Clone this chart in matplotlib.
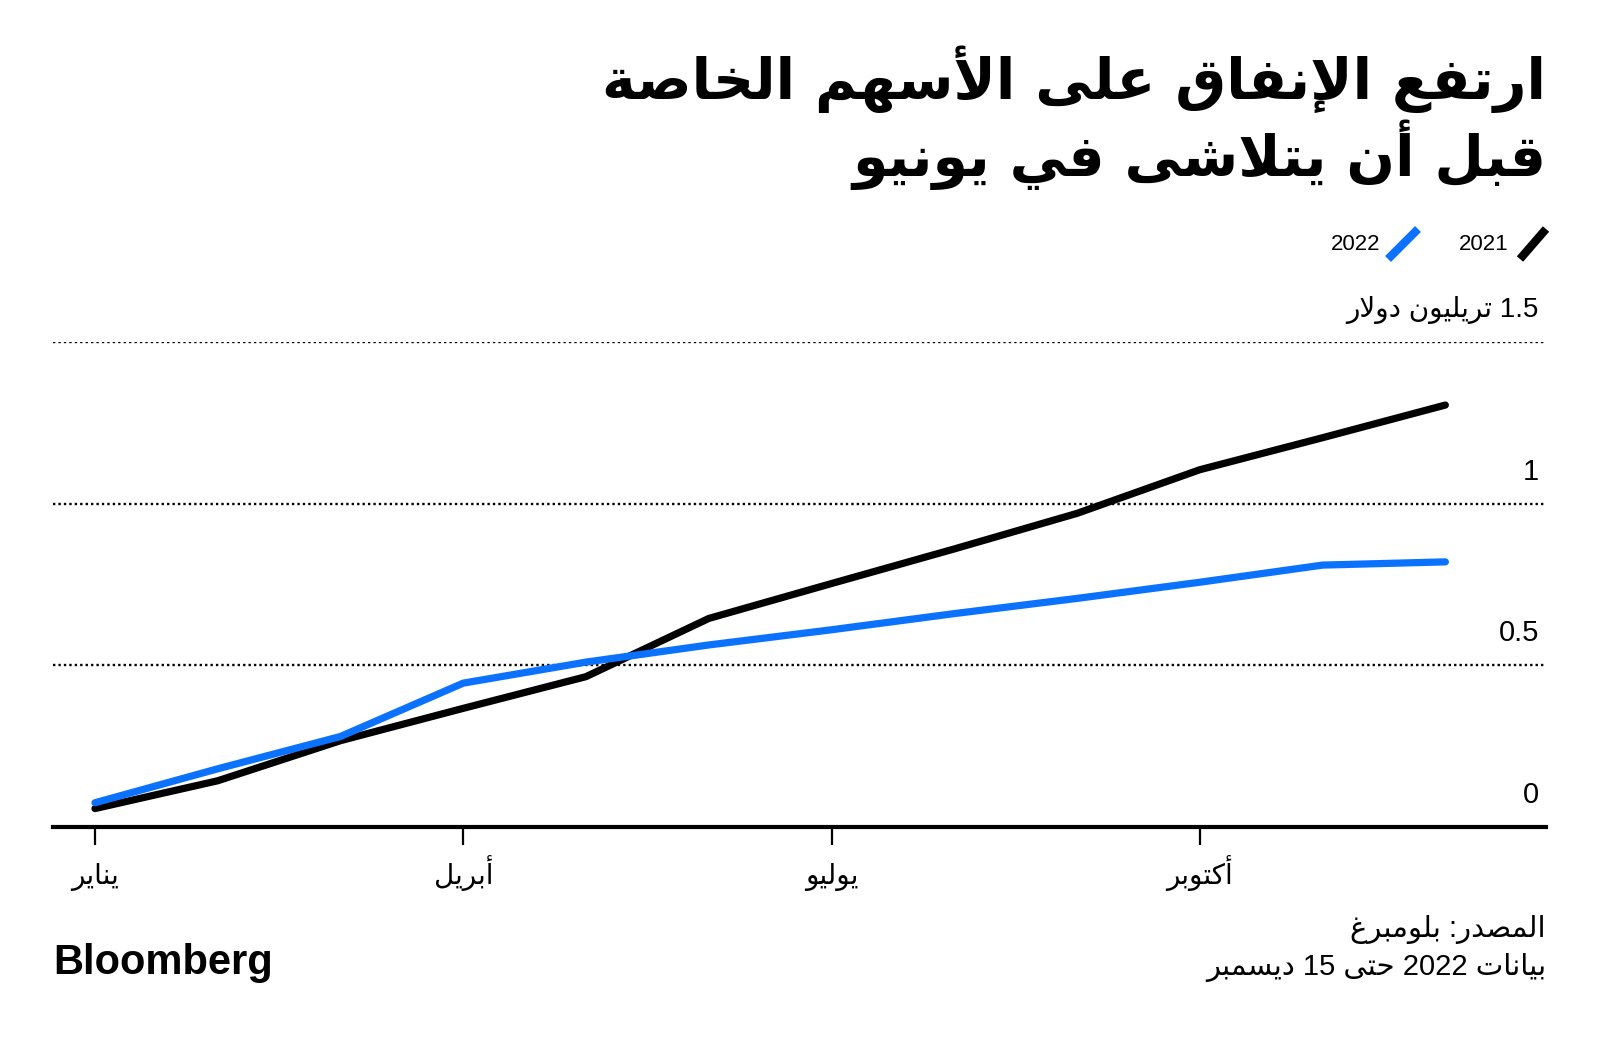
import re
import matplotlib
matplotlib.use('Agg')
import matplotlib.pyplot as plt
from matplotlib.lines import Line2D
from matplotlib.transforms import offset_copy


# cumulative private share buybacks, trillion dollars, one point per month
months = list(range(12))
spend_2021 = [0.057, 0.143, 0.267, 0.367, 0.465, 0.645, 0.753, 0.86, 0.97, 1.105, 1.204, 1.305]
spend_2022 = [0.075, 0.18, 0.28, 0.445, 0.51, 0.563, 0.61, 0.66, 0.707, 0.757, 0.81, 0.82]

month_ticks = [0, 3, 6, 9]
month_labels = ['يناير', 'أبريل', 'يوليو', 'أكتوبر']
y_ticks = [0, 0.5, 1, 1.5]
y_labels = ['0', '0.5', '1', '1.5 تريليون دولار']

title_lines = ['ارتفع الإنفاق على الأسهم الخاصة', 'قبل أن يتلاشى في يونيو']
source_lines = ['المصدر: بلومبرغ', 'بيانات 2022 حتى 15 ديسمبر']

BLUE = '#0a72ff'
BLACK = '#000000'

# matplotlib has no arabic shaping, so map letters to presentation forms
# (isolated, final, initial, medial)
FORMS = {
    '\u0627': ('\uFE8D', '\uFE8E', None, None),
    '\u0623': ('\uFE83', '\uFE84', None, None),
    '\u0625': ('\uFE87', '\uFE88', None, None),
    '\u0628': ('\uFE8F', '\uFE90', '\uFE91', '\uFE92'),
    '\u0629': ('\uFE93', '\uFE94', None, None),
    '\u062A': ('\uFE95', '\uFE96', '\uFE97', '\uFE98'),
    '\u062D': ('\uFEA1', '\uFEA2', '\uFEA3', '\uFEA4'),
    '\u062E': ('\uFEA5', '\uFEA6', '\uFEA7', '\uFEA8'),
    '\u062F': ('\uFEA9', '\uFEAA', None, None),
    '\u0631': ('\uFEAD', '\uFEAE', None, None),
    '\u0633': ('\uFEB1', '\uFEB2', '\uFEB3', '\uFEB4'),
    '\u0634': ('\uFEB5', '\uFEB6', '\uFEB7', '\uFEB8'),
    '\u0635': ('\uFEB9', '\uFEBA', '\uFEBB', '\uFEBC'),
    '\u0639': ('\uFEC9', '\uFECA', '\uFECB', '\uFECC'),
    '\u063A': ('\uFECD', '\uFECE', '\uFECF', '\uFED0'),
    '\u0641': ('\uFED1', '\uFED2', '\uFED3', '\uFED4'),
    '\u0642': ('\uFED5', '\uFED6', '\uFED7', '\uFED8'),
    '\u0643': ('\uFED9', '\uFEDA', '\uFEDB', '\uFEDC'),
    '\u0644': ('\uFEDD', '\uFEDE', '\uFEDF', '\uFEE0'),
    '\u0645': ('\uFEE1', '\uFEE2', '\uFEE3', '\uFEE4'),
    '\u0646': ('\uFEE5', '\uFEE6', '\uFEE7', '\uFEE8'),
    '\u0647': ('\uFEE9', '\uFEEA', '\uFEEB', '\uFEEC'),
    '\u0648': ('\uFEED', '\uFEEE', None, None),
    '\u0649': ('\uFEEF', '\uFEF0', None, None),
    '\u064A': ('\uFEF1', '\uFEF2', '\uFEF3', '\uFEF4'),
}
LAM_ALEF = {'\u0627': ('\uFEFB', '\uFEFC'),
            '\u0623': ('\uFEF7', '\uFEF8'),
            '\u0625': ('\uFEF9', '\uFEFA')}


def shape(text):
    tokens = []
    i = 0
    while i < len(text):
        c = text[i]
        if c == '\u0644' and i + 1 < len(text) and text[i + 1] in LAM_ALEF:
            tokens.append(('LA', text[i + 1]))
            i += 2
        else:
            tokens.append(('C', c))
            i += 1

    def joins_next(tok):
        if tok[0] == 'LA':
            return False
        f = FORMS.get(tok[1])
        return f is not None and f[2] is not None

    def is_letter(tok):
        return tok[0] == 'LA' or tok[1] in FORMS

    out = []
    for k, tok in enumerate(tokens):
        prev_j = k > 0 and joins_next(tokens[k - 1]) and is_letter(tok)
        next_j = k + 1 < len(tokens) and joins_next(tok) and is_letter(tokens[k + 1])
        if tok[0] == 'LA':
            out.append(LAM_ALEF[tok[1]][1 if prev_j else 0])
            continue
        f = FORMS.get(tok[1])
        if f is None:
            out.append(tok[1])
        elif prev_j and next_j:
            out.append(f[3])
        elif prev_j:
            out.append(f[1])
        elif next_j:
            out.append(f[2])
        else:
            out.append(f[0])
    return ''.join(out)


def rtl(text):
    parts = re.split(r'([0-9][0-9.,]*)', shape(text))
    parts = [p if re.match(r'[0-9]', p) else p[::-1] for p in parts]
    return ''.join(parts[::-1])


AR = ['Liberation Sans', 'DejaVu Sans']
plt.rcParams['font.family'] = AR

W, H = 1600, 1043
fig = plt.figure(figsize=(W / 100, H / 100), dpi=100)

left, right, y0, y15 = 53, 1546, 827, 342
ax = fig.add_axes([left / W, (H - y0) / H, (right - left) / W, (y0 - y15) / H])
ax.set_ylim(0, 1.5)
ax.set_xlim(-0.342, 11.82)
for s in ['top', 'left', 'right']:
    ax.spines[s].set_visible(False)
ax.spines['bottom'].set_linewidth(3)
ax.spines['bottom'].set_color(BLACK)

for v in y_ticks[1:]:
    ax.axhline(v, color=BLACK, lw=1.7, ls=(0, (1, 1.3)), zorder=1)

ax.plot(months, spend_2021, color=BLACK, lw=5.2, solid_capstyle='round',
        solid_joinstyle='round', zorder=3, clip_on=False)
ax.plot(months, spend_2022, color=BLUE, lw=5.2, solid_capstyle='round',
        solid_joinstyle='round', zorder=4, clip_on=False)

ax.set_yticks([])
ax.set_xticks(month_ticks)
ax.set_xticklabels([])
ax.tick_params(axis='x', length=13, width=1.6, color=BLACK)

# month labels on a common baseline
mtrans = offset_copy(ax.get_xaxis_transform(), fig=fig, y=-(884 - y0), units='dots')
for x, lab in zip(month_ticks, month_labels):
    ax.text(x, 0, rtl(lab), transform=mtrans, ha='center', va='baseline',
            fontsize=20, family=AR)

trans = offset_copy(ax.get_yaxis_transform(), fig=fig, y=18, units='dots')
for v, lab in zip(y_ticks, y_labels):
    ax.text((1539 - left) / (right - left), v, rtl(lab), transform=trans,
            ha='right', va='bottom', fontsize=21 if v < 1.5 else 20, family=AR)

# title
for i, line in enumerate(title_lines):
    fig.text(right / W, (H - (99 + 77 * i)) / H, rtl(line), ha='right',
             va='baseline', fontsize=41, weight='bold', family=['DejaVu Sans'])

# legend
leg = [(1520, 1546, BLACK, '2021', 1508), (1388, 1418, BLUE, '2022', 1380)]
for x1, x2, col, lab, tx in leg:
    fig.add_artist(Line2D([x1 / W, x2 / W], [(H - 259) / H, (H - 229) / H],
                          transform=fig.transFigure, color=col, lw=6,
                          solid_capstyle='butt'))
    fig.text(tx / W, (H - 245) / H, lab, ha='right', va='center', fontsize=16)

# footer
for i, line in enumerate(source_lines):
    fig.text(right / W, (H - (929 + 38 * i)) / H, rtl(line), ha='right',
             va='center', fontsize=21, family=AR)
fig.text(left / W, (H - 963) / H, 'Bloomberg', ha='left', va='center',
         fontsize=30, weight='bold', family=['Liberation Sans'])

fig.savefig('out.png', dpi=100, facecolor='white')
